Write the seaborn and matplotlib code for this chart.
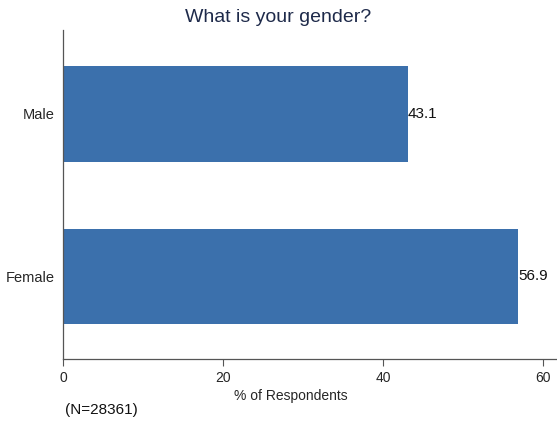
import matplotlib
matplotlib.use("Agg")
import matplotlib.pyplot as plt
import pandas as pd
import seaborn as sns

categories = ["Male", "Female"]
percents = [43.1, 56.9]
x_ticks = [0, 20, 40, 60]
n_total = 28361

sns.set_style("white")
plt.rcParams["font.family"] = ["Liberation Sans", "DejaVu Sans"]

df = pd.DataFrame({"gender": categories, "pct": percents})

fig = plt.figure(figsize=(5.57, 4.28), dpi=100)
ax = fig.add_axes([63 / 557, 1 - 359 / 428, 1 - 63 / 557, (359 - 30) / 428])

sns.barplot(data=df, y="gender", x="pct", orient="h", color="#3b70ac",
            width=0.59, saturation=1, linewidth=0, ax=ax)

for i, v in enumerate(percents):
    ax.text(v, i, f"{v:.1f}", va="center", ha="left", fontsize=11, color="#111111")

ax.set_xlim(0, 61.75)
ax.set_ylim(1.508, -0.517)
ax.set_xticks(x_ticks)
ax.set_xticklabels([str(t) for t in x_ticks], fontsize=10)
ax.tick_params(axis="x", length=5, width=0.8, color="#555555", direction="out",
               pad=4, bottom=True)
ax.tick_params(axis="y", length=0, labelsize=10.5, pad=6)
ax.set_ylabel("")
ax.set_xlabel("% of Respondents", fontsize=10)
ax.xaxis.set_label_coords((291 - 63) / (557 - 63), -0.09)

for side in ["top", "right"]:
    ax.spines[side].set_visible(False)
for side in ["left", "bottom"]:
    ax.spines[side].set_color("#555555")
    ax.spines[side].set_linewidth(0.9)

fig.text(0.5, 1 - 18 / 428, "What is your gender?", ha="center", va="center",
         fontsize=14, color="#1e2a4a")
fig.text(65 / 557, 1 - 410 / 428, f"(N={n_total})", ha="left", va="center",
         fontsize=11, color="#111111")

fig.savefig("out.png", dpi=100)
